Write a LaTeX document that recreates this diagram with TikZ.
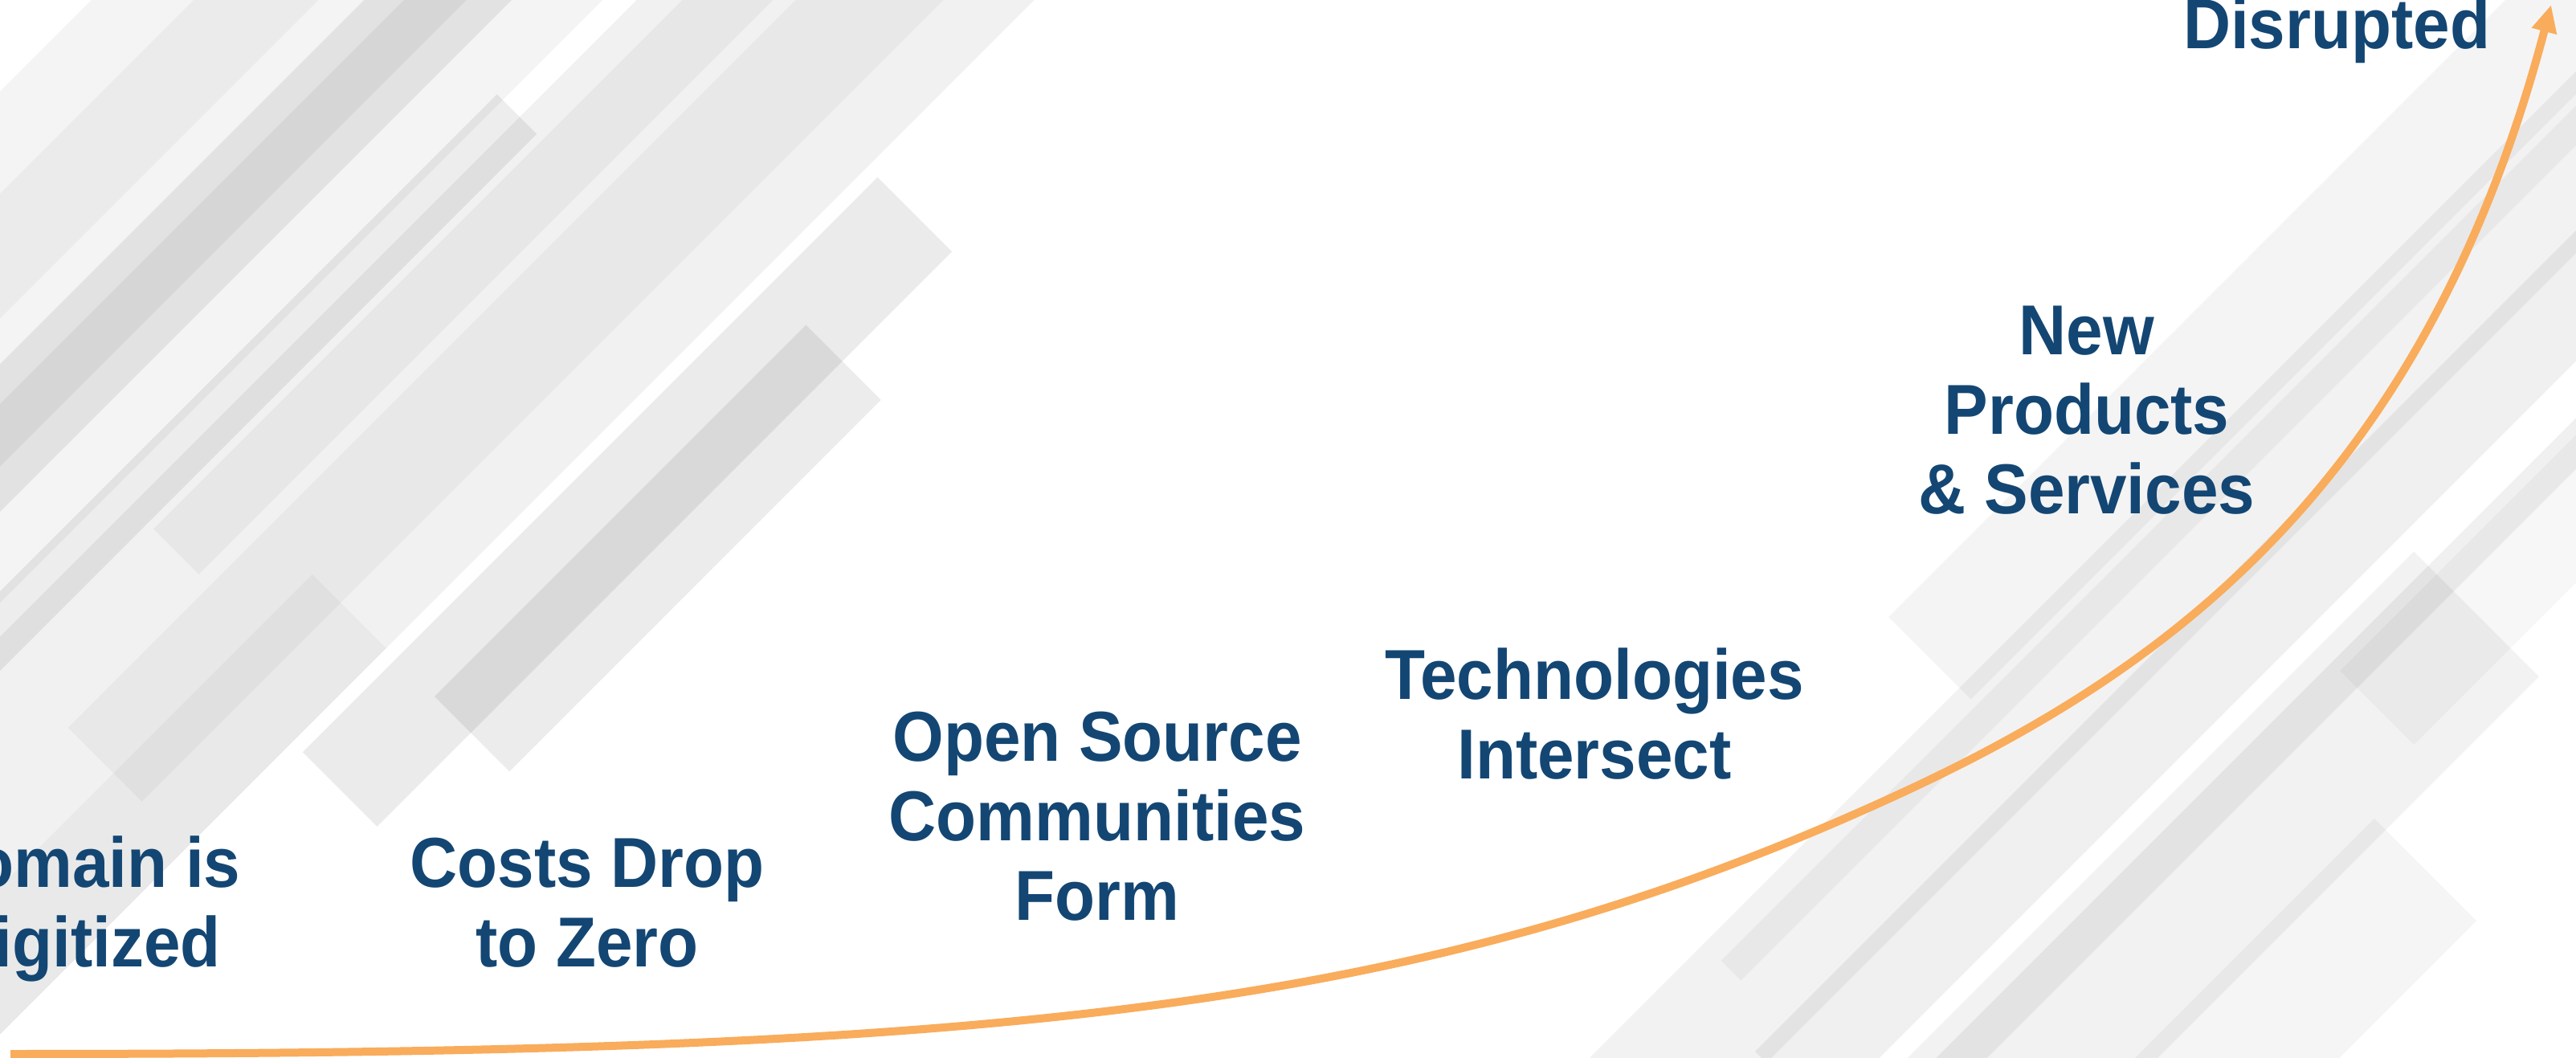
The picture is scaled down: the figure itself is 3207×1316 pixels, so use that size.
\documentclass[tikz,border=0pt]{standalone}
\usepackage{fontspec}
\newfontfamily\slidefont{Liberation Sans}[FakeStretch=0.93]
\usetikzlibrary{arrows.meta}
\definecolor{stageblue}{HTML}{134673}
\definecolor{curveorange}{HTML}{F9AC5B}
\tikzset{
  stage/.style={align=center, anchor=north, inner sep=0pt, text=stageblue,
    font=\slidefont\bfseries\fontsize{22}{24.75}\selectfont},
  stripe/.style={fill=black, fill opacity=#1},
}

\begin{document}
\begin{tikzpicture}[x=0.25pt, y=0.25pt]
        % canvas
        \fill[white] (0,0) rectangle (3207,1316);
        \useasboundingbox (0,0) rectangle (3207,1316);
        % background stripes, in a frame turned by 45 degrees
        \begin{scope}
            \clip (0,0) rectangle (3207,1316);
            \begin{scope}[rotate=45]
                % left group
                \foreach \ua/\va/\ub/\vb/\op in {
                    -200/20/2200/370/0.055, -200/400/2200/850/0.045,
                    0/340/1285/410/0.07, 300/480/2200/610/0.07,
                    535/-129/1547/2/0.08, 700/-197/1354/-65/0.075,
                    350/100/1800/230/0.035, 600/250/2200/330/0.04,
                    100/650/2200/760/0.035, 500/520/2200/575/0.05,
                    -200/20/700/150/0.03}
                {
                    \fill[stripe=\op] (\ua,\va) rectangle (\ub,\vb);
                }
                % right group
                \foreach \ua/\va/\ub/\vb/\op in {
                    2050/-1420/3400/-1275/0.045, 1380/-1560/3400/-1400/0.05,
                    1600/-1465/3400/-1430/0.04, 1550/-1655/3400/-1540/0.06,
                    1650/-1900/2570/-1680/0.05, 1650/-1750/2900/-1705/0.06,
                    1800/-2060/2300/-1880/0.04, 2400/-1850/2950/-1720/0.03}
                {
                    \fill[stripe=\op] (\ua,\va) rectangle (\ub,\vb);
                }
            \end{scope}
        \end{scope}
        % growth curve
        \coordinate (start) at (13,4);
        \coordinate (knee) at (2361,326);
        \coordinate (tip) at (3176,1310);
        \draw[curveorange, line width=2.5pt, -{Triangle[width=7.5pt,length=8.5pt]}]
            (start) .. controls (1213,4) and (1761,50) .. (knee)
            .. controls (2681,473) and (3016,702) .. (tip);
        % stages
        \node[stage] (domain) at (104,276) {Domain is\\Digitized};
        \node[stage] (costs) at (731,274) {Costs Drop\\to Zero};
        \node[stage] (opensrc) at (1366,431) {Open Source\\Communities\\Form};
        \node[stage] (tech) at (1985,510) {Technologies\\Intersect};
        \node[stage] (newprod) at (2598,936) {New\\Products\\\& Services};
        \node[stage] (disrupt) at (2909,1320) {Disrupted};
\end{tikzpicture}
\end{document}
